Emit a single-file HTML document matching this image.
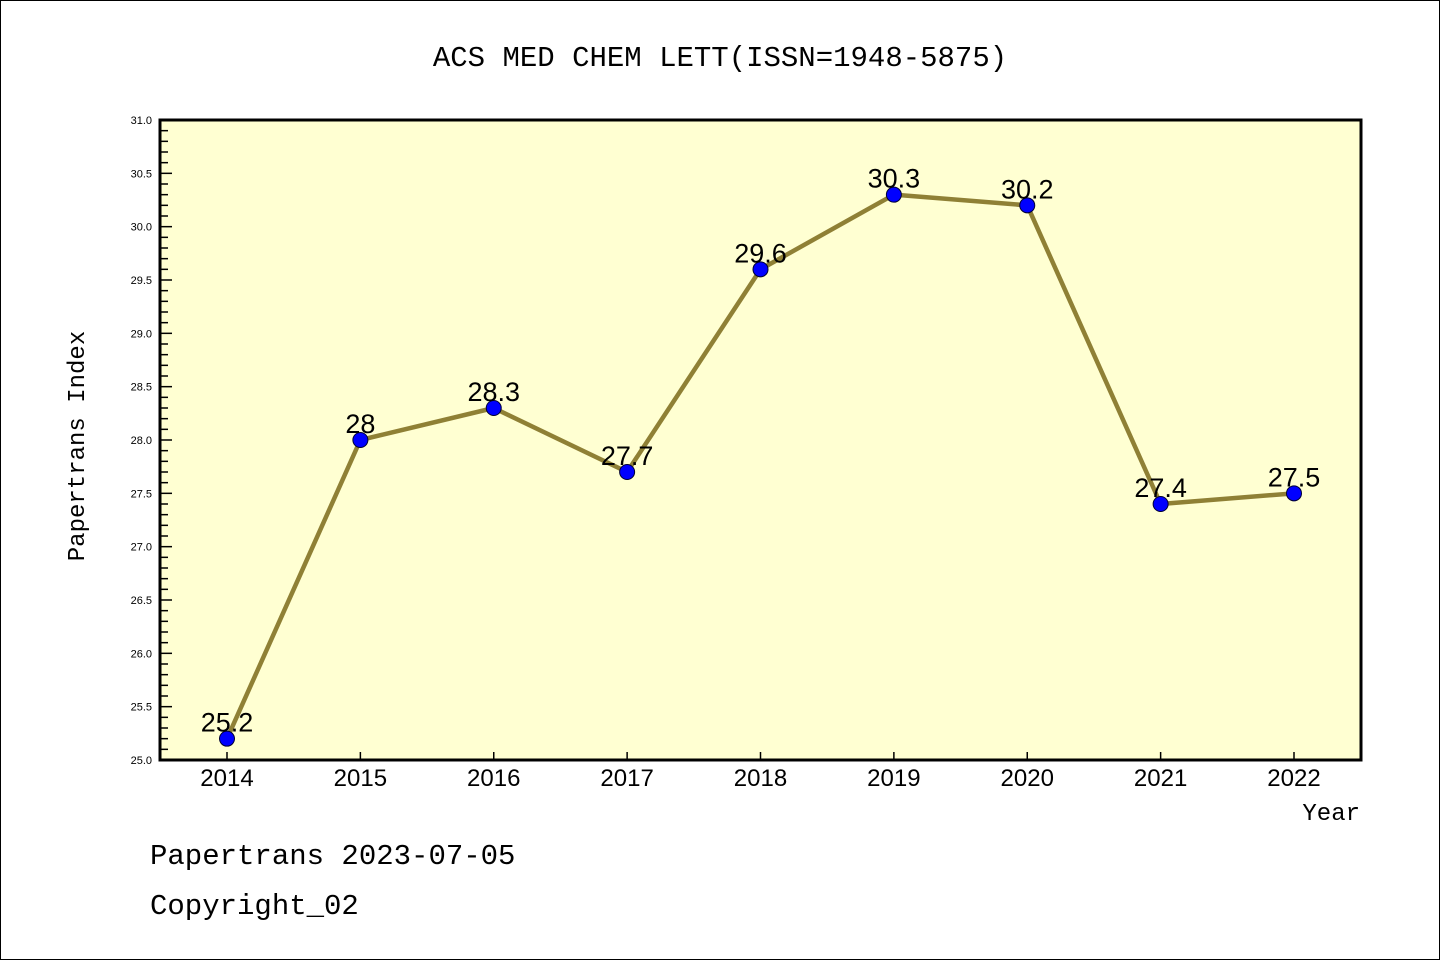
<!DOCTYPE html>
<html><head><meta charset="utf-8"><style>
body{margin:0;background:#fff}
svg{display:block;font-family:"Liberation Sans","WenQuanYi Zen Hei",sans-serif}
</style></head><body>
<svg id="c" width="1440" height="960">
<rect x="0.5" y="0.5" width="1439" height="959" fill="#fff" stroke="#000"/>
<text x="720" y="66" font-size="29" text-anchor="middle" font-family="Liberation Mono, monospace">ACS MED CHEM LETT(ISSN=1948-5875)</text>
<rect x="160" y="120" width="1201" height="640" fill="#ffffd2"/>
<g id="ticks"></g>
<g id="series"></g>
<rect x="160" y="120" width="1201" height="640" fill="none" stroke="#000" stroke-width="3"/>
<text transform="translate(84,446) rotate(-90)" font-size="24" text-anchor="middle" font-family="Liberation Mono, monospace">Papertrans Index</text>
<text x="1360" y="820" font-size="24" text-anchor="end" font-family="Liberation Mono, monospace">Year</text>
<text x="150" y="864" font-size="29" font-family="Liberation Mono, monospace">Papertrans 2023-07-05</text>
<text x="150" y="914" font-size="29" font-family="Liberation Mono, monospace">Copyright_02</text>
</svg>
<script>
const years=["2014","2015","2016","2017","2018","2019","2020","2021","2022"];
const values=[25.2,28,28.3,27.7,29.6,30.3,30.2,27.4,27.5];
const yTickLabels=["25.0","25.5","26.0","26.5","27.0","27.5","28.0","28.5","29.0","29.5","30.0","30.5","31.0"];
const NS="http://www.w3.org/2000/svg";
const yMin=25,yMax=31,plotTop=120,plotBot=760;
const yS=v=>plotBot-(v-yMin)/(yMax-yMin)*(plotBot-plotTop);
const xS=i=>227+i*(1294-227)/(years.length-1);
function mk(t,a,p){const e=document.createElementNS(NS,t);for(const k in a)e.setAttribute(k,a[k]);p.appendChild(e);return e;}
const tg=document.getElementById('ticks'),sg=document.getElementById('series');
for(let k=0;k<=60;k++){const v=yMin+k*0.1;const major=k%5===0;
 const l=mk('line',{x1:160,x2:major?172:168,y1:yS(v),y2:yS(v),stroke:'#000','stroke-width':1.5},tg);
 
 }
yTickLabels.forEach(s=>{const t=mk('text',{x:152,y:yS(parseFloat(s))+4,'font-size':11,'text-anchor':'end'},tg);t.textContent=s;
 
 });
years.forEach((s,i)=>{const l=mk('line',{x1:xS(i),x2:xS(i),y1:760,y2:752,stroke:'#000','stroke-width':1.5},tg);
 
 
 const t=mk('text',{x:xS(i),y:786,'font-size':24,'text-anchor':'middle'},tg);t.textContent=s;
 
 });
const pl=mk('polyline',{points:values.map((v,i)=>xS(i)+','+yS(v)).join(' '),fill:'none',stroke:'#8f8035','stroke-width':4.5,'stroke-linejoin':'round'},sg);


values.forEach((v,i)=>{const c=mk('circle',{cx:xS(i),cy:yS(v),r:7.5,fill:'#0000ff',stroke:'#000033','stroke-width':1},sg);
 
 
 const t=mk('text',{x:xS(i),y:yS(v)-7,'font-size':27,'text-anchor':'middle'},sg);t.textContent=String(v);
 
 });
</script>
</body></html>
